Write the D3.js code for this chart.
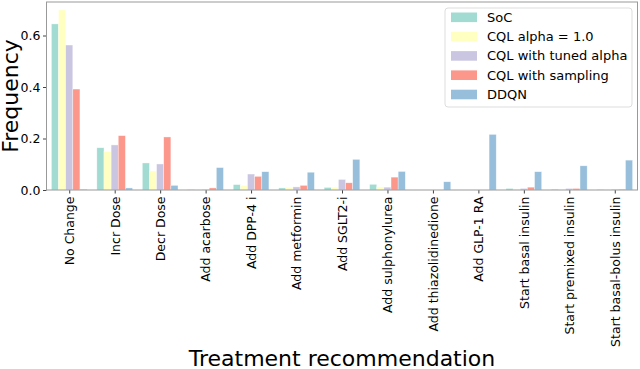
<!DOCTYPE html>
<html>
<head>
<meta charset="utf-8">
<script src="https://cdn.jsdelivr.net/npm/d3@7"></script>
<style>
  body { margin: 0; background: #fff; }
  svg { font-family: "DejaVu Sans", sans-serif; }
</style>
</head>
<body>
<svg id="chart" width="640" height="369"></svg>
<script>
// treatment categories on the x axis
var categories = ["No Change", "Incr Dose", "Decr Dose", "Add acarbose", "Add DPP-4 i",
    "Add metformin", "Add SGLT2-i", "Add sulphonylurea", "Add thiazolidinedione",
    "Add GLP-1 RA", "Start basal insulin", "Start premixed insulin", "Start basal-bolus insulin"];

var seriesNames = ["SoC", "CQL alpha = 1.0", "CQL with tuned alpha", "CQL with sampling", "DDQN"];

// frequencies
var soc      = [0.645, 0.164, 0.105, 0.002, 0.021, 0.008, 0.010, 0.022, 0.000, 0.000, 0.006, 0.003, 0.002];
var cqlAlpha = [0.699, 0.149, 0.074, 0.001, 0.017, 0.010, 0.011, 0.012, 0.000, 0.000, 0.004, 0.003, 0.002];
var cqlTuned = [0.563, 0.175, 0.101, 0.002, 0.062, 0.012, 0.041, 0.011, 0.000, 0.000, 0.006, 0.006, 0.003];
var cqlSamp  = [0.392, 0.211, 0.206, 0.008, 0.053, 0.018, 0.028, 0.050, 0.000, 0.000, 0.011, 0.006, 0.003];
var ddqn     = [0.003, 0.008, 0.018, 0.087, 0.071, 0.069, 0.119, 0.072, 0.032, 0.216, 0.071, 0.094, 0.116];

var yTicks = [0.0, 0.2, 0.4, 0.6];

var series = [soc, cqlAlpha, cqlTuned, cqlSamp, ddqn];
var colors = ["#8dd3c7", "#ffffb3", "#bebada", "#fb8072", "#80b1d3"];

var svg = d3.select("#chart");
var plotL = 46.5, plotR = 637.5, plotT = 2, plotB = 190;

var x = d3.scaleLinear().domain([-0.5, categories.length - 0.5]).range([plotL, plotR]);
var y = d3.scaleLinear().domain([0, 0.6]).range([plotB, 35.5]);
var barW = 0.157;

// bars
var g = svg.append("g");
series.forEach(function(vals, s) {
    g.selectAll(".b" + s)
        .data(vals)
        .enter().append("rect")
        .attr("x", function(d, i) { return x(i + (s - 2.5) * barW); })
        .attr("y", function(d) { return y(d); })
        .attr("width", x(barW) - x(0))
        .attr("height", function(d) { return y(0) - y(d); })
        .attr("fill", colors[s])
        .attr("fill-opacity", 0.82)
        .attr("stroke", "#fff")
        .attr("stroke-opacity", 0.6)
        .attr("stroke-width", 0.6);
});

// axes
var xAxis = d3.axisBottom(x)
    .tickValues(d3.range(categories.length))
    .tickFormat(function(d) { return categories[d]; })
    .tickSize(3.5).tickSizeOuter(0);
var yAxis = d3.axisLeft(y)
    .tickValues(yTicks)
    .tickFormat(d3.format(".1f"))
    .tickSize(3.5).tickSizeOuter(0);

var xg = svg.append("g")
    .attr("transform", "translate(0," + plotB + ")")
    .call(xAxis)
    .attr("font-family", "DejaVu Sans");
xg.select(".domain").remove();
xg.selectAll(".tick line").attr("stroke", "#444");
xg.selectAll(".tick text")
    .attr("font-size", 12.5)
    .attr("fill", "#000")
    .attr("transform", "rotate(-90)")
    .attr("text-anchor", "end")
    .attr("x", -6.5)
    .attr("y", 0)
    .attr("dy", "0.35em");

var yg = svg.append("g")
    .attr("transform", "translate(" + plotL + ",0)")
    .call(yAxis)
    .attr("font-family", "DejaVu Sans");
yg.select(".domain").remove();
yg.selectAll(".tick line").attr("stroke", "#444");
yg.selectAll(".tick text")
    .attr("font-size", 12.5)
    .attr("fill", "#000")
    .attr("x", -6);

// frame
svg.append("rect")
    .attr("x", plotL).attr("y", plotT)
    .attr("width", plotR - plotL).attr("height", plotB - plotT)
    .attr("fill", "none")
    .attr("stroke", "#999")
    .attr("stroke-width", 1);

// axis titles
svg.append("text")
    .attr("x", (plotL + plotR) / 2)
    .attr("y", 366)
    .attr("text-anchor", "middle")
    .attr("font-size", 22)
    .text("Treatment recommendation");

svg.append("text")
    .attr("transform", "translate(17.5," + ((plotT + plotB) / 2) + ") rotate(-90)")
    .attr("text-anchor", "middle")
    .attr("font-size", 22)
    .text("Frequency");

// legend
var lg = svg.append("g").attr("transform", "translate(445,8)");
lg.append("rect")
    .attr("width", 187).attr("height", 99)
    .attr("rx", 3)
    .attr("fill", "#fff").attr("fill-opacity", 0.8)
    .attr("stroke", "#ddd");
var items = lg.selectAll(".item")
    .data(seriesNames)
    .enter().append("g")
    .attr("transform", function(d, i) { return "translate(0," + (9.3 + i * 19.3) + ")"; });
items.append("rect")
    .attr("x", 6).attr("y", -4.8)
    .attr("width", 26).attr("height", 9.6)
    .attr("fill", function(d, i) { return colors[i]; })
    .attr("fill-opacity", 0.82);
items.append("text")
    .attr("x", 42)
    .attr("dy", "0.35em")
    .attr("font-size", 13)
    .text(function(d) { return d; });
</script>
</body>
</html>
